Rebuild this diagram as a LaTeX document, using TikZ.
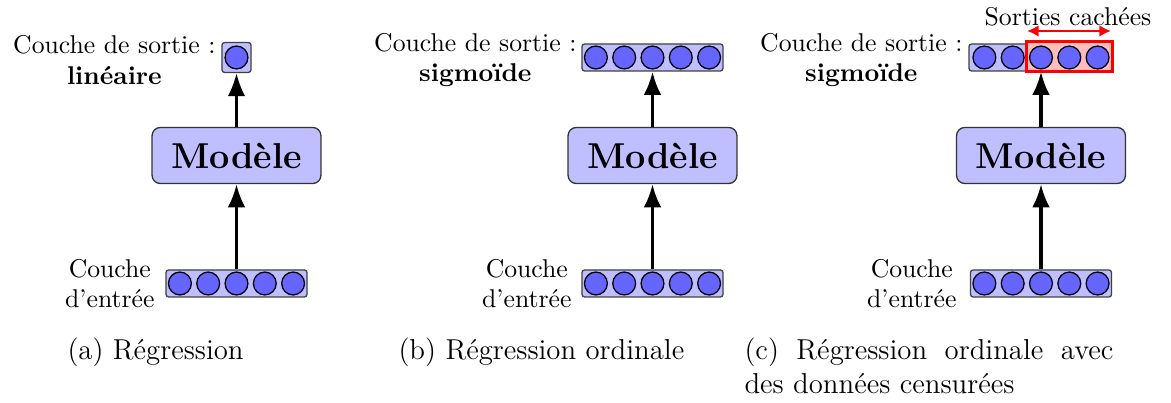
\documentclass[tikz,border=0pt]{standalone}
\usetikzlibrary{arrows.meta}
\definecolor{boxfill}{RGB}{191,191,255}
\definecolor{neuron}{RGB}{102,102,255}
\definecolor{hidfill}{RGB}{255,190,190}
\begin{document}
\begin{tikzpicture}[x=0.389pt,y=-0.389pt,
  layerbox/.style={draw=black!75, fill=boxfill, rounded corners=1pt, line width=0.5pt, inner sep=0pt, minimum height=10.5pt},
  neuronnode/.style={circle, draw=black, fill=neuron, line width=0.5pt, inner sep=0pt, minimum size=8.9pt},
  modelbox/.style={draw=black!80, fill=boxfill, rounded corners=3.2pt, line width=0.5pt, inner sep=0pt, minimum width=65.7pt, minimum height=21.8pt, font=\fontsize{14}{17}\bfseries},
  hidbox/.style={draw=red, fill=hidfill, line width=1.2pt, inner sep=0pt, minimum width=33.6pt, minimum height=11.8pt},
  arr/.style={line width=1.2pt, -{Latex[length=9pt,width=6.8pt]}},
  redarr/.style={red, line width=0.9pt, {Latex[length=4.5pt,width=4.5pt]}-{Latex[length=4.5pt,width=4.5pt]}},
  lbl/.style={align=center, inner sep=0pt, font=\fontsize{10}{11.7}\selectfont},
  captext/.style={inner sep=0pt, anchor=west, font=\fontsize{11.2}{13.4}\selectfont}
]
\useasboundingbox (0,0) rectangle (1171,403);

% ---------- (a) ----------
\node[layerbox, minimum width=11.3pt, minimum height=11.6pt] (outa) at (236.5,57.5) {};
\node[neuronnode] (outa1) at (236.5,57.5) {};
\node[modelbox] (moda) at (236.5,155.5) {Modèle};
\node[layerbox, minimum width=54.85pt] (ina) at (236.5,283.5) {};
\foreach \i in {1,...,5} \node[neuronnode] (ina\i) at ({236.5+(\i-3)*28.3},283.5) {};
\draw[arr] (ina.north) -- (moda.south);
\draw[arr] (moda.north) -- (outa.south);
\node[lbl, anchor=east] (louta) at (216,60) {Couche de sortie :\\\textbf{linéaire}};
\node[lbl, anchor=east] (lina) at (155,284) {Couche\\d’entrée};
\node[captext] (capa) at (67,352) {(a) Régression};

% ---------- (b) ----------
\node[layerbox, minimum width=54.85pt] (outb) at (652.5,57.5) {};
\foreach \i in {1,...,5} \node[neuronnode] (outb\i) at ({652.5+(\i-3)*28.3},57.5) {};
\node[modelbox] (modb) at (652.5,155.5) {Modèle};
\node[layerbox, minimum width=54.85pt] (inb) at (652.5,283.5) {};
\foreach \i in {1,...,5} \node[neuronnode] (inb\i) at ({652.5+(\i-3)*28.3},283.5) {};
\draw[arr] (inb.north) -- (modb.south);
\draw[arr] (modb.north) -- (outb.south);
\node[lbl, anchor=east] (loutb) at (577,60) {Couche de sortie :\\\textbf{sigmoïde}};
\node[lbl, anchor=east] (linb) at (572,284) {Couche\\d’entrée};
\node[captext] (capb) at (398,352) {(b) Régression ordinale};

% ---------- (c) ----------
\node[layerbox, minimum width=56pt] (outc) at (1041,57.5) {};
\node[hidbox] (hid) at (1069.5,56.5) {};
\foreach \i in {1,...,5} \node[neuronnode] (outc\i) at ({1041+(\i-3)*28.3},57.5) {};
\node[modelbox] (modc) at (1041,155.5) {Modèle};
\node[layerbox, minimum width=54.85pt] (inc) at (1041,283.5) {};
\foreach \i in {1,...,5} \node[neuronnode] (inc\i) at ({1041+(\i-3)*28.3},283.5) {};
\draw[arr] (inc.north) -- (modc.south);
\draw[arr] (modc.north) -- (outc.south);
\coordinate (hl) at (1027,31);
\coordinate (hr) at (1111,31);
\draw[redarr] (hl) -- (hr);
\node[lbl] (hidlbl) at (1068,17) {Sorties cachées};
\node[lbl, anchor=east] (loutc) at (963,60) {Couche de sortie :\\\textbf{sigmoïde}};
\node[lbl, anchor=east] (linc) at (957,284) {Couche\\d’entrée};
\node[captext] (capc1) at (744,352) {\makebox[143.5pt][s]{(c) Régression ordinale avec}};
\node[captext] (capc2) at (744,384) {des données censurées};
\end{tikzpicture}
\end{document}
